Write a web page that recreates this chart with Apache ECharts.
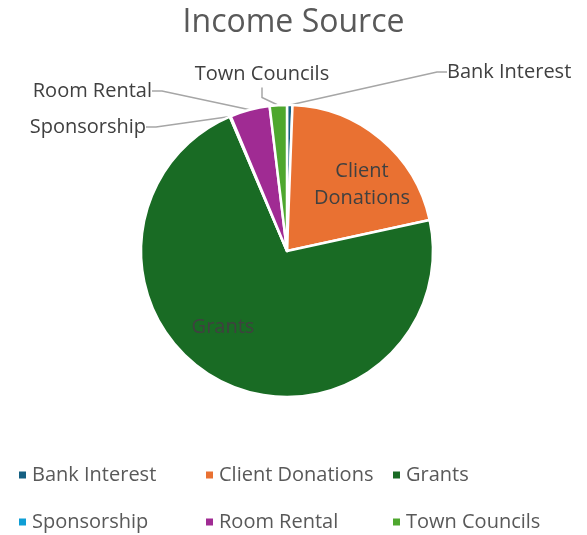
<!DOCTYPE html>
<html>
<head>
<meta charset="utf-8">
<script src="https://cdn.jsdelivr.net/npm/echarts@6/dist/echarts.min.js"></script>
<style>
  html, body { margin: 0; padding: 0; background: #fff; }
  #chart { width: 587px; height: 535px; }
</style>
</head>
<body>
<div id="chart"></div>
<script>
// Income sources and their share of total income (percent)
const categories = ['Bank Interest', 'Client Donations', 'Grants', 'Sponsorship', 'Room Rental', 'Town Councils'];
const shares = [0.6, 21.0, 72.0, 0.1, 4.4, 1.9];
const sliceColors = ['#156082', '#E97132', '#196B24', '#0F9ED5', '#A02B93', '#4EA72E'];
const insideLabels = ['Client Donations', 'Grants'];

const FONT = '"Open Sans", "Noto Sans", sans-serif';

// where each category label sits on the canvas
const labelSpots = {
  'Bank Interest':    { x: 447, y: 72,  align: 'left' },
  'Client Donations': { x: 362, y: 185, align: 'center' },
  'Grants':           { x: 223, y: 327, align: 'center' },
  'Sponsorship':      { x: 146, y: 127, align: 'right' },
  'Room Rental':      { x: 152, y: 91,  align: 'right' },
  'Town Councils':    { x: 262, y: 74,  align: 'center' }
};

const pieData = categories.map((name, i) => {
  const inside = insideLabels.includes(name);
  return {
    name: name,
    value: shares[i],
    itemStyle: { color: sliceColors[i] },
    label: { position: inside ? 'inside' : 'outside' },
    labelLine: { show: !inside }
  };
});

const legendTextStyle = { color: '#595959', fontSize: 20, fontFamily: FONT, lineHeight: 20 };
function legendColumn(names, left) {
  return {
    data: names,
    orient: 'vertical',
    left: left,
    top: 465,
    padding: 0,
    icon: 'rect',
    itemWidth: 9,
    itemHeight: 9,
    itemGap: 27,
    itemTextGap: 8,
    textStyle: legendTextStyle,
    selectedMode: false
  };
}

const chart = echarts.init(document.getElementById('chart'), null, { renderer: 'canvas' });
chart.setOption({
  animation: false,
  backgroundColor: '#ffffff',
  title: {
    text: 'Income Source',
    left: 'center',
    top: 2,
    textStyle: { color: '#595959', fontSize: 32, fontWeight: 'normal', fontFamily: FONT }
  },
  legend: [
    legendColumn([categories[0], categories[3]], 17),
    legendColumn([categories[1], categories[4]], 204),
    legendColumn([categories[2], categories[5]], 391)
  ],
  series: [{
    type: 'pie',
    center: [287, 251],
    radius: [0, 146],
    startAngle: 90,
    clockwise: true,
    avoidLabelOverlap: false,
    itemStyle: { borderColor: '#ffffff', borderWidth: 2.5 },
    label: {
      show: true,
      color: '#404040',
      fontSize: 20,
      fontFamily: FONT,
      lineHeight: 27,
      formatter: p => p.name === 'Client Donations' ? 'Client\nDonations' : p.name
    },
    labelLine: {
      show: true,
      length: 10,
      length2: 10,
      lineStyle: { color: '#a6a6a6', width: 1.5 }
    },
    labelLayout: function (params) {
      const spot = labelSpots[categories[params.dataIndex]];
      return { x: spot.x, y: spot.y, align: spot.align, verticalAlign: 'middle' };
    },
    emphasis: { disabled: true },
    data: pieData
  }]
});
</script>
</body>
</html>
